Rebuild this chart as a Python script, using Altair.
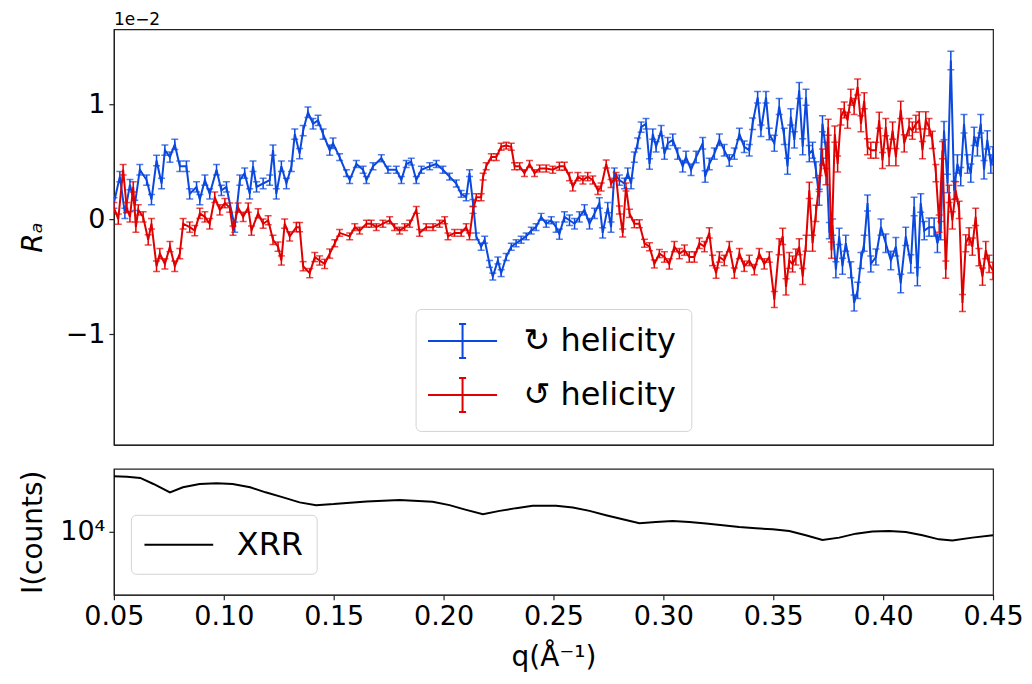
import altair as alt
import pandas as pd

BLUE = "#0a48de"
RED = "#e10000"
S1 = "↻ helicity"
S2 = "↺ helicity"
FONT = "DejaVu Sans"

# ---- top panel data (values in units of 1e-2) ----
blue_q = [0.0500, 0.0527, 0.0550, 0.0573, 0.0595, 0.0618, 0.0649, 0.0671, 0.0694, 0.0717, 0.0732, 0.0755,
          0.0777, 0.0800, 0.0830, 0.0845, 0.0876, 0.0891, 0.0914, 0.0936, 0.0967, 0.0989, 0.1012, 0.1050,
          0.1073, 0.1095, 0.1118, 0.1133, 0.1149, 0.1179, 0.1209, 0.1224, 0.1239, 0.1262, 0.1285, 0.1308,
          0.1323, 0.1345, 0.1361, 0.1383, 0.1406, 0.1429, 0.1452, 0.1482, 0.1497, 0.1527, 0.1558, 0.1573,
          0.1603, 0.1634, 0.1649, 0.1679, 0.1717, 0.1747, 0.1785, 0.1808, 0.1830, 0.1853, 0.1876, 0.1899,
          0.1937, 0.1967, 0.1997, 0.2027, 0.2058, 0.2080, 0.2103, 0.2118, 0.2134, 0.2149, 0.2171, 0.2187,
          0.2209, 0.2224, 0.2247, 0.2262, 0.2285, 0.2308, 0.2330, 0.2353, 0.2376, 0.2399, 0.2421, 0.2444,
          0.2467, 0.2490, 0.2512, 0.2527, 0.2550, 0.2573, 0.2596, 0.2618, 0.2641, 0.2664, 0.2687, 0.2709,
          0.2724, 0.2747, 0.2762, 0.2777, 0.2800, 0.2823, 0.2838, 0.2853, 0.2868, 0.2883, 0.2899, 0.2921,
          0.2937, 0.2952, 0.2967, 0.2990, 0.3005, 0.3020, 0.3043, 0.3065, 0.3088, 0.3103, 0.3126, 0.3149,
          0.3179, 0.3190, 0.3209, 0.3232, 0.3255, 0.3277, 0.3300, 0.3323, 0.3346, 0.3368, 0.3391, 0.3406,
          0.3429, 0.3444, 0.3467, 0.3482, 0.3505, 0.3527, 0.3550, 0.3565, 0.3580, 0.3596, 0.3618, 0.3634,
          0.3649, 0.3664, 0.3679, 0.3694, 0.3709, 0.3724, 0.3740, 0.3755, 0.3770, 0.3785, 0.3800, 0.3815,
          0.3830, 0.3853, 0.3868, 0.3884, 0.3899, 0.3914, 0.3929, 0.3944, 0.3967, 0.3990, 0.4012, 0.4035,
          0.4058, 0.4080, 0.4103, 0.4126, 0.4141, 0.4156, 0.4171, 0.4187, 0.4209, 0.4232, 0.4247, 0.4262,
          0.4277, 0.4293, 0.4308, 0.4323, 0.4338, 0.4353, 0.4368, 0.4384, 0.4399, 0.4414, 0.4429, 0.4444,
          0.4459, 0.4474, 0.4490, 0.4500]
blue_v = [0.14, 0.37, 0.05, 0.30, 0.12, 0.43, 0.34, 0.17, 0.51, 0.31, 0.60, 0.54,
          0.65, 0.46, 0.46, 0.22, 0.28, 0.17, 0.34, 0.22, 0.43, 0.25, 0.28, -0.07,
          0.34, 0.40, 0.22, 0.46, 0.28, 0.31, 0.34, 0.60, 0.22, 0.46, 0.31, 0.46,
          0.74, 0.57, 0.77, 0.93, 0.83, 0.86, 0.74, 0.60, 0.66, 0.54, 0.40, 0.34,
          0.48, 0.43, 0.34, 0.46, 0.53, 0.43, 0.43, 0.34, 0.48, 0.50, 0.34, 0.43,
          0.46, 0.48, 0.43, 0.37, 0.31, 0.22, 0.19, 0.40, 0.14, -0.15, -0.24, -0.18,
          -0.39, -0.50, -0.36, -0.47, -0.33, -0.24, -0.21, -0.18, -0.15, -0.10, -0.07, 0.02,
          -0.04, -0.01, -0.07, -0.13, 0.02, -0.01, -0.04, 0.02, 0.08, -0.04, 0.05, 0.14,
          -0.12, 0.10, -0.07, 0.40, 0.34, 0.31, 0.40, 0.31, 0.54, 0.66, 0.80, 0.83,
          0.48, 0.74, 0.63, 0.77, 0.57, 0.66, 0.69, 0.57, 0.46, 0.54, 0.43, 0.54,
          0.66, 0.37, 0.48, 0.57, 0.69, 0.60, 0.51, 0.57, 0.74, 0.63, 0.60, 0.83,
          1.06, 0.77, 1.06, 0.74, 0.66, 0.98, 0.72, 0.46, 0.89, 0.69, 1.12, 0.63,
          1.06, 0.57, 0.60, 0.43, 0.19, 0.83, 0.60, -0.10, -0.07, -0.44, -0.15, -0.41,
          -0.21, -0.44, -0.73, -0.62, -0.36, -0.21, 0.14, -0.39, -0.33, -0.07, -0.21, -0.36,
          -0.24, -0.56, -0.15, -0.39, 0.11, -0.50, 0.14, -0.10, -0.07, -0.07, -0.21, -0.10,
          0.77, 0.31, 1.38, 0.25, 0.48, 0.37, 0.83, 0.48, 0.40, 0.72, 0.63, 0.83,
          0.43, 0.69, 0.48, 0.55]

red_q = [0.0500, 0.0520, 0.0542, 0.0558, 0.0573, 0.0588, 0.0600, 0.0611, 0.0633, 0.0656, 0.0671, 0.0694,
         0.0709, 0.0732, 0.0755, 0.0777, 0.0800, 0.0815, 0.0845, 0.0868, 0.0891, 0.0914, 0.0936, 0.0959,
         0.0982, 0.1005, 0.1027, 0.1042, 0.1065, 0.1088, 0.1111, 0.1126, 0.1156, 0.1179, 0.1202, 0.1224,
         0.1247, 0.1262, 0.1277, 0.1300, 0.1330, 0.1345, 0.1361, 0.1391, 0.1414, 0.1436, 0.1459, 0.1482,
         0.1505, 0.1527, 0.1573, 0.1596, 0.1618, 0.1649, 0.1671, 0.1694, 0.1724, 0.1755, 0.1777, 0.1800,
         0.1823, 0.1846, 0.1876, 0.1891, 0.1921, 0.1952, 0.1982, 0.2005, 0.2020, 0.2050, 0.2080, 0.2103,
         0.2118, 0.2134, 0.2149, 0.2171, 0.2180, 0.2194, 0.2217, 0.2240, 0.2262, 0.2285, 0.2308, 0.2323,
         0.2346, 0.2368, 0.2391, 0.2414, 0.2437, 0.2467, 0.2497, 0.2527, 0.2550, 0.2573, 0.2588, 0.2611,
         0.2634, 0.2656, 0.2679, 0.2702, 0.2717, 0.2740, 0.2762, 0.2785, 0.2800, 0.2815, 0.2830, 0.2846,
         0.2868, 0.2891, 0.2914, 0.2937, 0.2959, 0.2982, 0.3005, 0.3027, 0.3050, 0.3073, 0.3096, 0.3118,
         0.3141, 0.3164, 0.3187, 0.3209, 0.3224, 0.3240, 0.3255, 0.3277, 0.3300, 0.3323, 0.3346, 0.3368,
         0.3391, 0.3414, 0.3436, 0.3459, 0.3482, 0.3505, 0.3527, 0.3543, 0.3558, 0.3573, 0.3588, 0.3603,
         0.3618, 0.3634, 0.3649, 0.3664, 0.3679, 0.3694, 0.3709, 0.3724, 0.3740, 0.3750, 0.3765, 0.3780,
         0.3793, 0.3808, 0.3823, 0.3838, 0.3853, 0.3868, 0.3884, 0.3899, 0.3914, 0.3929, 0.3944, 0.3967,
         0.3982, 0.3997, 0.4012, 0.4027, 0.4043, 0.4058, 0.4080, 0.4096, 0.4118, 0.4133, 0.4149, 0.4164,
         0.4179, 0.4194, 0.4209, 0.4224, 0.4240, 0.4255, 0.4270, 0.4285, 0.4300, 0.4315, 0.4330, 0.4346,
         0.4361, 0.4376, 0.4391, 0.4406, 0.4421, 0.4436, 0.4452, 0.4467, 0.4482, 0.4500]
red_v = [0.10, 0.00, 0.43, 0.10, 0.02, 0.28, -0.07, 0.08, 0.02, -0.18, -0.04, -0.41,
         -0.30, -0.39, -0.24, -0.41, -0.30, -0.04, -0.07, -0.10, 0.05, 0.02, -0.04, 0.19,
         0.08, 0.14, 0.10, -0.10, 0.10, 0.02, 0.10, -0.10, 0.05, -0.04, -0.01, -0.18,
         -0.24, -0.36, -0.04, -0.15, -0.07, -0.07, -0.41, -0.47, -0.33, -0.36, -0.39, -0.30,
         -0.21, -0.12, -0.15, -0.07, -0.10, -0.04, -0.04, -0.07, -0.04, -0.01, -0.07, -0.10,
         -0.07, -0.04, 0.08, -0.12, -0.07, -0.07, -0.04, -0.01, -0.15, -0.12, -0.12, -0.07,
         -0.15, 0.08, 0.19, 0.19, 0.37, 0.46, 0.54, 0.54, 0.63, 0.64, 0.63, 0.46,
         0.46, 0.40, 0.48, 0.40, 0.44, 0.44, 0.43, 0.46, 0.46, 0.37, 0.28, 0.37,
         0.34, 0.37, 0.34, 0.25, 0.28, 0.48, 0.31, 0.37, 0.08, -0.12, 0.28, 0.05,
         -0.04, -0.04, -0.21, -0.24, -0.39, -0.30, -0.33, -0.39, -0.24, -0.30, -0.27, -0.33,
         -0.33, -0.21, -0.24, -0.12, -0.36, -0.47, -0.33, -0.36, -0.24, -0.47, -0.30, -0.41,
         -0.36, -0.44, -0.30, -0.39, -0.33, -0.70, -0.24, -0.15, -0.59, -0.36, -0.39, -0.33,
         -0.24, -0.50, -0.21, 0.25, -0.21, 0.05, 0.31, 0.54, 0.37, 0.80, -0.27, 0.74,
         0.48, 0.89, 0.95, 0.86, 1.06, 0.98, 1.15, 0.83, 1.03, 0.63, 0.60, 0.60,
         0.86, 0.51, 0.80, 0.54, 0.77, 0.54, 0.95, 0.66, 0.80, 0.77, 0.83, 0.86,
         0.60, 0.86, 0.80, 0.69, 0.40, -0.04, 0.60, -0.44, 0.22, -0.01, 0.25, 0.08,
         -0.73, -0.21, -0.15, -0.24, 0.02, -0.33, -0.50, -0.27, -0.39, -0.45]

# error half-widths (1e-2 units) for each 0.05-wide q band
blue_err_band = [0.045, 0.045, 0.03, 0.03, 0.045, 0.05, 0.07, 0.08]
red_err_band = [0.045, 0.04, 0.03, 0.03, 0.035, 0.045, 0.07, 0.075]

# ---- bottom panel data ----
xrr_q = [0.050, 0.056, 0.062, 0.068, 0.0755, 0.0814, 0.089, 0.0967, 0.104, 0.112, 0.119, 0.127,
         0.1345, 0.142, 0.150, 0.165, 0.180, 0.195, 0.2027, 0.2103, 0.2179, 0.2255, 0.233, 0.2405,
         0.2512, 0.2588, 0.2664, 0.2739, 0.2815, 0.2891, 0.2966, 0.3042, 0.3118, 0.3194, 0.327,
         0.3345, 0.3421, 0.3497, 0.3573, 0.3648, 0.3724, 0.380, 0.3876, 0.3951, 0.4027, 0.4103,
         0.4179, 0.4254, 0.4315, 0.4406, 0.450]
xrr_i = [27650, 27370, 26790, 23990, 20590, 22570, 23990, 24300, 23990, 22570, 20590, 18780,
         17130, 16290, 16600, 17440, 17860, 17310, 16290, 14940, 13800, 14670, 15420, 16080,
         16080, 15620, 14670, 13550, 12590, 11690, 11980, 12200, 11980, 11630, 11270,
         10920, 10660, 10470, 10150, 9380, 8600, 8990, 9670, 10040, 10150, 9960,
         9380, 8710, 8550, 8990, 9380]

x_ticks = [0.05, 0.10, 0.15, 0.20, 0.25, 0.30, 0.35, 0.40, 0.45]


def build(q, v, band, name):
    rows = []
    for a, b in zip(q, v):
        e = band[min(int((a - 0.05) / 0.05 + 1e-9), len(band) - 1)]
        rows.append({"q": a, "v": b, "lo": b - e, "hi": b + e, "series": name})
    return pd.DataFrame(rows)


df_b = build(blue_q, blue_v, blue_err_band, S1)
df_r = build(red_q, red_v, red_err_band, S2)
df_x = pd.DataFrame({"q": xrr_q, "I": xrr_i, "name": ["XRR"] * len(xrr_q)})

xs = alt.Scale(domain=[0.05, 0.45], nice=False, zero=False)
ys = alt.Scale(domain=[-1.965, 1.652], nice=False, zero=False)
cscale = alt.Scale(domain=[S1, S2], range=[BLUE, RED])

ERR_PATH = "M-2.16,0H2.16M0,-1.06V1.06M-0.22,-1.06H0.22M-0.22,1.06H0.22"
legend_top = alt.Legend(
    title=None, orient="none", legendX=302, legendY=280,
    symbolType=ERR_PATH, symbolSize=1024, symbolStrokeWidth=2, symbolOffset=15,
    labelFont=FONT, labelFontSize=32, labelColor="black", labelOffset=44, labelLimit=400,
    rowPadding=12, padding=15, strokeColor="#d3d3d3", fillColor="rgba(255,255,255,0.85)",
    cornerRadius=5,
)
legend_bot = alt.Legend(
    title=None, orient="none", legendX=17, legendY=46,
    symbolType="M-2.15,0H2.15", symbolSize=1024, symbolStrokeWidth=2, symbolOffset=18,
    labelFont=FONT, labelFontSize=32, labelColor="black", labelOffset=41, labelLimit=400,
    padding=13, strokeColor="#d3d3d3", fillColor="rgba(255,255,255,0.85)", cornerRadius=5,
)

x_top_axis = alt.Axis(values=x_ticks, labels=False, ticks=False, title=None)
y_top_axis = alt.Axis(values=[-1, 0, 1], format="d", title="Rₐ", titleFontStyle="italic",
                      titleX=-80, titleBaseline="middle", titleAngle=-90)
X_TOP = dict(scale=xs, axis=x_top_axis)
Y_TOP = dict(scale=ys, axis=y_top_axis)


def series_layers(df, col):
    base = alt.Chart(df)
    bars = base.mark_rule(color=col, strokeWidth=1.5, clip=True).encode(
        x=alt.X("q:Q", **X_TOP), y=alt.Y("lo:Q", **Y_TOP), y2="hi:Q",
    )
    cap_lo = base.mark_tick(color=col, orient="horizontal", size=7, thickness=1.5, clip=True).encode(
        x=alt.X("q:Q", **X_TOP), y=alt.Y("lo:Q", **Y_TOP))
    cap_hi = base.mark_tick(color=col, orient="horizontal", size=7, thickness=1.5, clip=True).encode(
        x=alt.X("q:Q", **X_TOP), y=alt.Y("hi:Q", **Y_TOP))
    line = base.mark_line(strokeWidth=2, clip=True).encode(
        x=alt.X("q:Q", **X_TOP), y=alt.Y("v:Q", **Y_TOP),
        color=alt.Color("series:N", scale=cscale, legend=legend_top),
    )
    return [bars, cap_lo, cap_hi, line]


offset_txt = alt.Chart(pd.DataFrame({"t": ["1e−2"]})).mark_text(
    align="left", baseline="bottom", fontSize=17, font=FONT, color="black"
).encode(x=alt.value(0), y=alt.value(0), text="t:N")

top = alt.layer(
    *series_layers(df_b, BLUE), *series_layers(df_r, RED), offset_txt
).properties(width=880, height=416)

bottom = alt.Chart(df_x).mark_line(strokeWidth=2, clip=True).encode(
    x=alt.X("q:Q", scale=xs, axis=alt.Axis(values=x_ticks, format=".2f", title="q(Å⁻¹)",
                                           titlePadding=14, labelFlush=False)),
    y=alt.Y("I:Q", scale=alt.Scale(type="log", domain=[3162.28, 31622.8], nice=False),
            axis=alt.Axis(values=[10000], labelExpr="'10⁴'", title="I(counts)",
                          titleX=-80, titleBaseline="middle", titleAngle=-90)),
    color=alt.Color("name:N", scale=alt.Scale(domain=["XRR"], range=["black"]), legend=legend_bot),
).properties(width=880, height=126)

chart = alt.vconcat(top, bottom, spacing=24, bounds="flush").resolve_scale(
    color="independent"
).properties(
    padding={"left": 11, "top": 2, "right": 0, "bottom": 0}
).configure_view(
    stroke="#222222", strokeWidth=1.2
).configure_axis(
    grid=False, domainColor="#222222", domainWidth=1.2, tickColor="#222222", tickWidth=1.2, tickSize=5,
    labelFont=FONT, titleFont=FONT, labelFontSize=27, titleFontSize=28, labelColor="black",
    titleColor="black", titleFontWeight="normal", labelPadding=4, labelFlush=False,
)

chart.save("out.html", embed_options={"renderer": "svg", "actions": False})
